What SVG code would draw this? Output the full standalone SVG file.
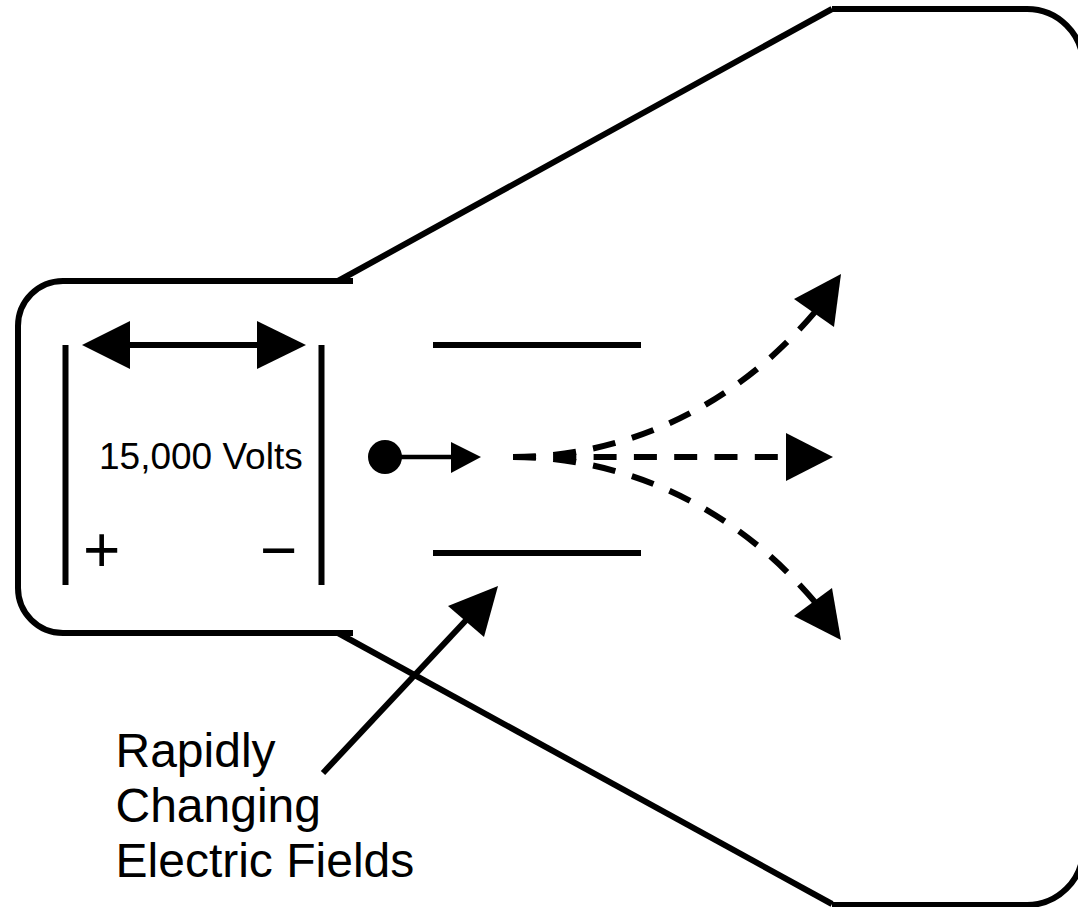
<svg xmlns="http://www.w3.org/2000/svg" width="1078" height="907" viewBox="0 0 1078 907">
<style>
.ln{fill:none;stroke:#000;stroke-width:6}
.ds{fill:none;stroke:#000;stroke-width:6;stroke-dasharray:23 17.3}
.hd{fill:#000}
text{font-family:"Liberation Sans",Arial,sans-serif;fill:#000}
.t1{font-size:37px}
.t2{font-size:64px}
.t3{font-size:48px}
</style>
<rect width="1078" height="907" fill="#fff"/>
<g id="tube">
<path class="ln" d="M353 281H63A45 45 0 0 0 18 326V588A45 45 0 0 0 63 633H353"/>
<path class="ln" d="M338 281L832 9"/>
<path class="ln" d="M338 633L832 904"/>
<path class="ln" d="M832 9H1027A56 56 0 0 1 1083 65V850A56 56 0 0 1 1027 905H832"/>
</g>
<g id="accelerating-plates">
<path class="ln" d="M65.500 345V585"/>
<path class="ln" d="M321.500 345V585"/>
</g>
<g id="deflecting-plates">
<path class="ln" d="M433 345H641"/>
<path class="ln" d="M433 553H641"/>
</g>
<g id="electron"><circle cx="385" cy="457" r="17"/></g>
<g id="connectors">
<path class="ln" d="M129 345H258"/>
<polygon class="hd" points="82,345 130,321 130,369"/>
<polygon class="hd" points="306,345 257,321 257,369"/>
<path d="M400 457H452" fill="none" stroke="#000" stroke-width="4.500"/>
<polygon class="hd" points="481,457 451,442 451,473"/>
<path class="ds" d="M513 457H786"/>
<polygon class="hd" points="833,457 786,433 786,481"/>
<path class="ds" d="M513 457C620 457 730 412 815 312"/>
<polygon class="hd" points="841,274 794,299 834,327"/>
<path class="ds" d="M513 457C620 457 730 502 815 602"/>
<polygon class="hd" points="841,640 794,616 832,588"/>
<path class="ln" d="M323 773L470 616"/>
<polygon class="hd" points="498,586 448,606 484,637"/>
</g>
<g id="labels">
<text class="t1" x="99" y="469">15,000 Volts</text>
<text class="t2" x="83" y="572">+</text>
<text class="t2" x="260" y="572">−</text>
<text class="t3" x="115.500" y="767">Rapidly</text>
<text class="t3" x="115.500" y="822">Changing</text>
<text class="t3" x="115.500" y="877">Electric Fields</text>
</g>
</svg>
